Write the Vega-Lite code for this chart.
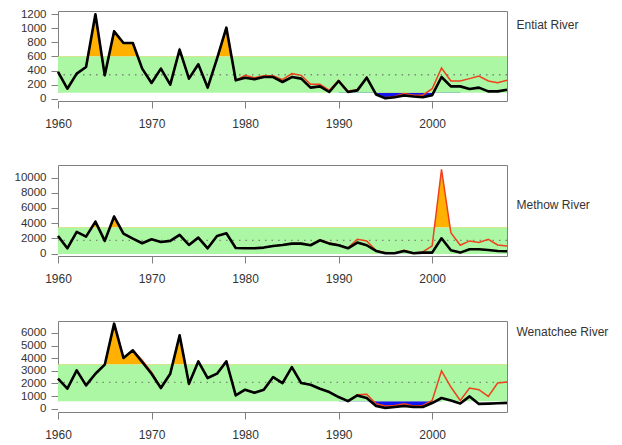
{
  "$schema": "https://vega.github.io/schema/vega-lite/v6.json",
  "padding": {"left": 14, "top": 8, "right": 5, "bottom": 0},
  "background": "white",
  "spacing": 36,
  "config": {
    "view": {"stroke": null},
    "axis": {"domainColor": "#808080", "tickColor": "#808080", "labelColor": "#333333", "labelFont": "Liberation Sans", "titleFont": "Liberation Sans", "grid": false, "zindex": 1, "domainWidth": 1, "tickWidth": 1}
  },
  "datasets": {
    "bands": [
      {"river": "Entiat River", "lo": 85, "mean": 340, "hi": 600},
      {"river": "Methow River", "lo": -40, "mean": 1750, "hi": 3420},
      {"river": "Wenatchee River", "lo": 590, "mean": 2090, "hi": 3500}
    ],
    "series": [
      {"river": "Entiat River", "year": 1960, "wild": 380, "total": 380},
      {"river": "Entiat River", "year": 1961, "wild": 142, "total": 142},
      {"river": "Entiat River", "year": 1962, "wild": 356, "total": 356},
      {"river": "Entiat River", "year": 1963, "wild": 450, "total": 450},
      {"river": "Entiat River", "year": 1964, "wild": 1200, "total": 1200},
      {"river": "Entiat River", "year": 1965, "wild": 332, "total": 332},
      {"river": "Entiat River", "year": 1966, "wild": 958, "total": 958},
      {"river": "Entiat River", "year": 1967, "wild": 792, "total": 792},
      {"river": "Entiat River", "year": 1968, "wild": 792, "total": 792},
      {"river": "Entiat River", "year": 1969, "wild": 427, "total": 427},
      {"river": "Entiat River", "year": 1970, "wild": 223, "total": 223},
      {"river": "Entiat River", "year": 1971, "wild": 427, "total": 427},
      {"river": "Entiat River", "year": 1972, "wild": 200, "total": 200},
      {"river": "Entiat River", "year": 1973, "wild": 697, "total": 697},
      {"river": "Entiat River", "year": 1974, "wild": 285, "total": 285},
      {"river": "Entiat River", "year": 1975, "wild": 489, "total": 489},
      {"river": "Entiat River", "year": 1976, "wild": 157, "total": 157},
      {"river": "Entiat River", "year": 1977, "wild": 569, "total": 569},
      {"river": "Entiat River", "year": 1978, "wild": 1010, "total": 1010},
      {"river": "Entiat River", "year": 1979, "wild": 261, "total": 261},
      {"river": "Entiat River", "year": 1980, "wild": 299, "total": 332},
      {"river": "Entiat River", "year": 1981, "wild": 275, "total": 299},
      {"river": "Entiat River", "year": 1982, "wild": 308, "total": 327},
      {"river": "Entiat River", "year": 1983, "wild": 308, "total": 327},
      {"river": "Entiat River", "year": 1984, "wild": 237, "total": 270},
      {"river": "Entiat River", "year": 1985, "wild": 308, "total": 356},
      {"river": "Entiat River", "year": 1986, "wild": 285, "total": 332},
      {"river": "Entiat River", "year": 1987, "wild": 157, "total": 204},
      {"river": "Entiat River", "year": 1988, "wild": 175, "total": 204},
      {"river": "Entiat River", "year": 1989, "wild": 95, "total": 118},
      {"river": "Entiat River", "year": 1990, "wild": 251, "total": 261},
      {"river": "Entiat River", "year": 1991, "wild": 95, "total": 109},
      {"river": "Entiat River", "year": 1992, "wild": 118, "total": 128},
      {"river": "Entiat River", "year": 1993, "wild": 299, "total": 308},
      {"river": "Entiat River", "year": 1994, "wild": 60, "total": 62},
      {"river": "Entiat River", "year": 1995, "wild": 5, "total": 12},
      {"river": "Entiat River", "year": 1996, "wild": 20, "total": 30},
      {"river": "Entiat River", "year": 1997, "wild": 45, "total": 75},
      {"river": "Entiat River", "year": 1998, "wild": 30, "total": 50},
      {"river": "Entiat River", "year": 1999, "wild": 20, "total": 50},
      {"river": "Entiat River", "year": 2000, "wild": 50, "total": 142},
      {"river": "Entiat River", "year": 2001, "wild": 308, "total": 436},
      {"river": "Entiat River", "year": 2002, "wild": 175, "total": 251},
      {"river": "Entiat River", "year": 2003, "wild": 175, "total": 251},
      {"river": "Entiat River", "year": 2004, "wild": 138, "total": 285},
      {"river": "Entiat River", "year": 2005, "wild": 157, "total": 322},
      {"river": "Entiat River", "year": 2006, "wild": 104, "total": 251},
      {"river": "Entiat River", "year": 2007, "wild": 104, "total": 228},
      {"river": "Entiat River", "year": 2008, "wild": 128, "total": 261},
      {"river": "Methow River", "year": 1960, "wild": 2325, "total": 2325},
      {"river": "Methow River", "year": 1961, "wild": 700, "total": 700},
      {"river": "Methow River", "year": 1962, "wild": 2850, "total": 2850},
      {"river": "Methow River", "year": 1963, "wild": 2240, "total": 2240},
      {"river": "Methow River", "year": 1964, "wild": 4210, "total": 4210},
      {"river": "Methow River", "year": 1965, "wild": 1670, "total": 1670},
      {"river": "Methow River", "year": 1966, "wild": 4870, "total": 4870},
      {"river": "Methow River", "year": 1967, "wild": 2630, "total": 2630},
      {"river": "Methow River", "year": 1968, "wild": 1970, "total": 1970},
      {"river": "Methow River", "year": 1969, "wild": 1360, "total": 1360},
      {"river": "Methow River", "year": 1970, "wild": 1890, "total": 1890},
      {"river": "Methow River", "year": 1971, "wild": 1535, "total": 1535},
      {"river": "Methow River", "year": 1972, "wild": 1670, "total": 1670},
      {"river": "Methow River", "year": 1973, "wild": 2460, "total": 2460},
      {"river": "Methow River", "year": 1974, "wild": 1140, "total": 1140},
      {"river": "Methow River", "year": 1975, "wild": 2100, "total": 2100},
      {"river": "Methow River", "year": 1976, "wild": 700, "total": 700},
      {"river": "Methow River", "year": 1977, "wild": 2325, "total": 2325},
      {"river": "Methow River", "year": 1978, "wild": 2675, "total": 2675},
      {"river": "Methow River", "year": 1979, "wild": 745, "total": 745},
      {"river": "Methow River", "year": 1980, "wild": 700, "total": 700},
      {"river": "Methow River", "year": 1981, "wild": 700, "total": 700},
      {"river": "Methow River", "year": 1982, "wild": 790, "total": 790},
      {"river": "Methow River", "year": 1983, "wild": 1010, "total": 1010},
      {"river": "Methow River", "year": 1984, "wild": 1140, "total": 1140},
      {"river": "Methow River", "year": 1985, "wild": 1315, "total": 1315},
      {"river": "Methow River", "year": 1986, "wild": 1315, "total": 1315},
      {"river": "Methow River", "year": 1987, "wild": 1100, "total": 1100},
      {"river": "Methow River", "year": 1988, "wild": 1750, "total": 1800},
      {"river": "Methow River", "year": 1989, "wild": 1315, "total": 1400},
      {"river": "Methow River", "year": 1990, "wild": 1100, "total": 1150},
      {"river": "Methow River", "year": 1991, "wild": 700, "total": 750},
      {"river": "Methow River", "year": 1992, "wild": 1450, "total": 1890},
      {"river": "Methow River", "year": 1993, "wild": 1100, "total": 1670},
      {"river": "Methow River", "year": 1994, "wild": 350, "total": 400},
      {"river": "Methow River", "year": 1995, "wild": 44, "total": 130},
      {"river": "Methow River", "year": 1996, "wild": 44, "total": 90},
      {"river": "Methow River", "year": 1997, "wild": 350, "total": 440},
      {"river": "Methow River", "year": 1998, "wild": 44, "total": 90},
      {"river": "Methow River", "year": 1999, "wild": 130, "total": 220},
      {"river": "Methow River", "year": 2000, "wild": 130, "total": 1010},
      {"river": "Methow River", "year": 2001, "wild": 2020, "total": 11100},
      {"river": "Methow River", "year": 2002, "wild": 440, "total": 2760},
      {"river": "Methow River", "year": 2003, "wild": 130, "total": 1100},
      {"river": "Methow River", "year": 2004, "wild": 570, "total": 1670},
      {"river": "Methow River", "year": 2005, "wild": 570, "total": 1450},
      {"river": "Methow River", "year": 2006, "wild": 480, "total": 1890},
      {"river": "Methow River", "year": 2007, "wild": 350, "total": 1140},
      {"river": "Methow River", "year": 2008, "wild": 300, "total": 1010},
      {"river": "Wenatchee River", "year": 1960, "wild": 2380, "total": 2380},
      {"river": "Wenatchee River", "year": 1961, "wild": 1586, "total": 1586},
      {"river": "Wenatchee River", "year": 1962, "wild": 3040, "total": 3040},
      {"river": "Wenatchee River", "year": 1963, "wild": 1850, "total": 1850},
      {"river": "Wenatchee River", "year": 1964, "wild": 2775, "total": 2775},
      {"river": "Wenatchee River", "year": 1965, "wild": 3490, "total": 3490},
      {"river": "Wenatchee River", "year": 1966, "wild": 6740, "total": 6740},
      {"river": "Wenatchee River", "year": 1967, "wild": 4020, "total": 4020},
      {"river": "Wenatchee River", "year": 1968, "wild": 4625, "total": 4625},
      {"river": "Wenatchee River", "year": 1969, "wild": 3700, "total": 3850},
      {"river": "Wenatchee River", "year": 1970, "wild": 2775, "total": 2900},
      {"river": "Wenatchee River", "year": 1971, "wild": 1640, "total": 1640},
      {"river": "Wenatchee River", "year": 1972, "wild": 2775, "total": 2775},
      {"river": "Wenatchee River", "year": 1973, "wild": 5815, "total": 5815},
      {"river": "Wenatchee River", "year": 1974, "wild": 1980, "total": 1980},
      {"river": "Wenatchee River", "year": 1975, "wild": 3750, "total": 3750},
      {"river": "Wenatchee River", "year": 1976, "wild": 2430, "total": 2430},
      {"river": "Wenatchee River", "year": 1977, "wild": 2775, "total": 2775},
      {"river": "Wenatchee River", "year": 1978, "wild": 3750, "total": 3750},
      {"river": "Wenatchee River", "year": 1979, "wild": 1057, "total": 1057},
      {"river": "Wenatchee River", "year": 1980, "wild": 1507, "total": 1507},
      {"river": "Wenatchee River", "year": 1981, "wild": 1270, "total": 1270},
      {"river": "Wenatchee River", "year": 1982, "wild": 1507, "total": 1507},
      {"river": "Wenatchee River", "year": 1983, "wild": 2510, "total": 2510},
      {"river": "Wenatchee River", "year": 1984, "wild": 2035, "total": 2035},
      {"river": "Wenatchee River", "year": 1985, "wild": 3300, "total": 3300},
      {"river": "Wenatchee River", "year": 1986, "wild": 2035, "total": 2035},
      {"river": "Wenatchee River", "year": 1987, "wild": 1900, "total": 1900},
      {"river": "Wenatchee River", "year": 1988, "wild": 1586, "total": 1586},
      {"river": "Wenatchee River", "year": 1989, "wild": 1320, "total": 1320},
      {"river": "Wenatchee River", "year": 1990, "wild": 925, "total": 925},
      {"river": "Wenatchee River", "year": 1991, "wild": 600, "total": 600},
      {"river": "Wenatchee River", "year": 1992, "wild": 1057, "total": 1110},
      {"river": "Wenatchee River", "year": 1993, "wild": 850, "total": 1150},
      {"river": "Wenatchee River", "year": 1994, "wild": 211, "total": 396},
      {"river": "Wenatchee River", "year": 1995, "wild": 53, "total": 211},
      {"river": "Wenatchee River", "year": 1996, "wild": 132, "total": 264},
      {"river": "Wenatchee River", "year": 1997, "wild": 211, "total": 396},
      {"river": "Wenatchee River", "year": 1998, "wild": 132, "total": 211},
      {"river": "Wenatchee River", "year": 1999, "wild": 132, "total": 264},
      {"river": "Wenatchee River", "year": 2000, "wild": 450, "total": 660},
      {"river": "Wenatchee River", "year": 2001, "wild": 848, "total": 3000},
      {"river": "Wenatchee River", "year": 2002, "wild": 658, "total": 1720},
      {"river": "Wenatchee River", "year": 2003, "wild": 420, "total": 658},
      {"river": "Wenatchee River", "year": 2004, "wild": 975, "total": 1640},
      {"river": "Wenatchee River", "year": 2005, "wild": 380, "total": 1505},
      {"river": "Wenatchee River", "year": 2006, "wild": 400, "total": 975},
      {"river": "Wenatchee River", "year": 2007, "wild": 430, "total": 2036},
      {"river": "Wenatchee River", "year": 2008, "wild": 460, "total": 2115}
    ]
  },
  "vconcat": [
    {
      "width": 449, "height": 90,
      "layer": [
        {
          "data": {"name": "series"},
          "transform": [{"filter": "datum.river === 'Entiat River'"}, {"lookup": "river", "from": {"data": {"name": "bands"}, "key": "river", "fields": ["lo", "hi"]}}],
          "mark": {"type": "area", "color": "#ffb000", "opacity": 1},
          "encoding": {
            "x": {"field": "year", "type": "quantitative", "scale": {"domain": [1960, 2008], "nice": false, "zero": false}, "axis": null},
            "y": {"field": "total", "type": "quantitative", "scale": {"domain": [-33, 1247], "nice": false, "zero": false}, "axis": null},
            "y2": {"field": "hi"}
          }
        },
        {
          "data": {"name": "bands"},
          "transform": [{"filter": "datum.river === 'Entiat River'"}],
          "mark": {"type": "rect", "color": "white", "opacity": 1},
          "encoding": {
            "y": {"field": "lo", "type": "quantitative", "scale": {"domain": [-33, 1247], "nice": false, "zero": false}, "axis": null},
            "y2": {"datum": -33}
          }
        },
        {
          "data": {"name": "series"},
          "transform": [{"filter": "datum.river === 'Entiat River' && datum.year >= 1990 && datum.year <= 2003"}, {"lookup": "river", "from": {"data": {"name": "bands"}, "key": "river", "fields": ["lo", "hi"]}}],
          "mark": {"type": "area", "color": "#1414f0", "opacity": 1},
          "encoding": {
            "x": {"field": "year", "type": "quantitative", "scale": {"domain": [1960, 2008], "nice": false, "zero": false}, "axis": null},
            "y": {"field": "wild", "type": "quantitative", "scale": {"domain": [-33, 1247], "nice": false, "zero": false}, "axis": null},
            "y2": {"field": "lo"}
          }
        },
        {
          "data": {"name": "bands"},
          "transform": [{"filter": "datum.river === 'Entiat River'"}],
          "mark": {"type": "rect", "color": "#acf7a3", "opacity": 1},
          "encoding": {
            "y": {"field": "lo", "type": "quantitative", "scale": {"domain": [-33, 1247], "nice": false, "zero": false}, "axis": null},
            "y2": {"field": "hi"}
          }
        },
        {
          "data": {"name": "bands"},
          "transform": [{"filter": "datum.river === 'Entiat River'"}],
          "mark": {"type": "rule", "color": "#7a8a78", "strokeDash": [1.5, 5], "strokeWidth": 1.3},
          "encoding": {
            "y": {"field": "mean", "type": "quantitative", "scale": {"domain": [-33, 1247], "nice": false, "zero": false}, "axis": null}
          }
        },
        {
          "data": {"name": "series"},
          "transform": [{"filter": "datum.river === 'Entiat River'"}],
          "mark": {"type": "line", "color": "#f0401c", "strokeWidth": 1.5},
          "encoding": {
            "x": {"field": "year", "type": "quantitative", "scale": {"domain": [1960, 2008], "nice": false, "zero": false}, "axis": {"orient": "top", "labels": false, "ticks": false, "title": null}},
            "y": {"field": "total", "type": "quantitative", "scale": {"domain": [-33, 1247], "nice": false, "zero": false}, "axis": {"orient": "right", "labels": false, "ticks": false, "title": "Entiat River", "titleAngle": 0, "titleAlign": "left", "titleBaseline": "middle", "titleX": 9, "titleY": 13, "titleFontSize": 12, "titleFontWeight": "normal", "titleColor": "#333333"}}
          }
        },
        {
          "data": {"name": "series"},
          "transform": [{"filter": "datum.river === 'Entiat River'"}],
          "mark": {"type": "line", "color": "#000000", "strokeWidth": 2.6, "strokeJoin": "round"},
          "encoding": {
            "x": {"field": "year", "type": "quantitative", "scale": {"domain": [1960, 2008], "nice": false, "zero": false}, "axis": {"orient": "bottom", "values": [1960, 1970, 1980, 1990, 2000], "format": "d", "tickSize": 7, "labelPadding": 10, "labelFontSize": 12, "labelFlush": false, "labelOverlap": false, "title": null}},
            "y": {"field": "wild", "type": "quantitative", "scale": {"domain": [-33, 1247], "nice": false, "zero": false}, "axis": {"orient": "left", "values": [0, 200, 400, 600, 800, 1000, 1200], "format": "d", "tickSize": 7, "labelPadding": 5, "labelFontSize": 11.5, "labelOverlap": false, "title": null}}
          }
        }
      ],
      "resolve": {"axis": {"x": "independent", "y": "independent"}}
    },
    {
      "width": 449, "height": 91,
      "layer": [
        {
          "data": {"name": "series"},
          "transform": [{"filter": "datum.river === 'Methow River'"}, {"lookup": "river", "from": {"data": {"name": "bands"}, "key": "river", "fields": ["lo", "hi"]}}],
          "mark": {"type": "area", "color": "#ffb000", "opacity": 1},
          "encoding": {
            "x": {"field": "year", "type": "quantitative", "scale": {"domain": [1960, 2008], "nice": false, "zero": false}, "axis": null},
            "y": {"field": "total", "type": "quantitative", "scale": {"domain": [-316, 11658], "nice": false, "zero": false}, "axis": null},
            "y2": {"field": "hi"}
          }
        },
        {
          "data": {"name": "bands"},
          "transform": [{"filter": "datum.river === 'Methow River'"}],
          "mark": {"type": "rect", "color": "white", "opacity": 1},
          "encoding": {
            "y": {"field": "lo", "type": "quantitative", "scale": {"domain": [-316, 11658], "nice": false, "zero": false}, "axis": null},
            "y2": {"datum": -316}
          }
        },
        {
          "data": {"name": "bands"},
          "transform": [{"filter": "datum.river === 'Methow River'"}],
          "mark": {"type": "rect", "color": "#acf7a3", "opacity": 1},
          "encoding": {
            "y": {"field": "lo", "type": "quantitative", "scale": {"domain": [-316, 11658], "nice": false, "zero": false}, "axis": null},
            "y2": {"field": "hi"}
          }
        },
        {
          "data": {"name": "bands"},
          "transform": [{"filter": "datum.river === 'Methow River'"}],
          "mark": {"type": "rule", "color": "#7a8a78", "strokeDash": [1.5, 5], "strokeWidth": 1.3},
          "encoding": {
            "y": {"field": "mean", "type": "quantitative", "scale": {"domain": [-316, 11658], "nice": false, "zero": false}, "axis": null}
          }
        },
        {
          "data": {"name": "series"},
          "transform": [{"filter": "datum.river === 'Methow River'"}],
          "mark": {"type": "line", "color": "#f0401c", "strokeWidth": 1.5},
          "encoding": {
            "x": {"field": "year", "type": "quantitative", "scale": {"domain": [1960, 2008], "nice": false, "zero": false}, "axis": {"orient": "top", "labels": false, "ticks": false, "title": null}},
            "y": {"field": "total", "type": "quantitative", "scale": {"domain": [-316, 11658], "nice": false, "zero": false}, "axis": {"orient": "right", "labels": false, "ticks": false, "title": "Methow River", "titleAngle": 0, "titleAlign": "left", "titleBaseline": "middle", "titleX": 9, "titleY": 39, "titleFontSize": 12, "titleFontWeight": "normal", "titleColor": "#333333"}}
          }
        },
        {
          "data": {"name": "series"},
          "transform": [{"filter": "datum.river === 'Methow River'"}],
          "mark": {"type": "line", "color": "#000000", "strokeWidth": 2.6, "strokeJoin": "round"},
          "encoding": {
            "x": {"field": "year", "type": "quantitative", "scale": {"domain": [1960, 2008], "nice": false, "zero": false}, "axis": {"orient": "bottom", "values": [1960, 1970, 1980, 1990, 2000], "format": "d", "tickSize": 7, "labelPadding": 10, "labelFontSize": 12, "labelFlush": false, "labelOverlap": false, "title": null}},
            "y": {"field": "wild", "type": "quantitative", "scale": {"domain": [-316, 11658], "nice": false, "zero": false}, "axis": {"orient": "left", "values": [0, 2000, 4000, 6000, 8000, 10000], "format": "d", "tickSize": 7, "labelPadding": 5, "labelFontSize": 11.5, "labelOverlap": false, "title": null}}
          }
        }
      ],
      "resolve": {"axis": {"x": "independent", "y": "independent"}}
    },
    {
      "width": 449, "height": 91,
      "layer": [
        {
          "data": {"name": "series"},
          "transform": [{"filter": "datum.river === 'Wenatchee River'"}, {"lookup": "river", "from": {"data": {"name": "bands"}, "key": "river", "fields": ["lo", "hi"]}}],
          "mark": {"type": "area", "color": "#ffb000", "opacity": 1},
          "encoding": {
            "x": {"field": "year", "type": "quantitative", "scale": {"domain": [1960, 2008], "nice": false, "zero": false}, "axis": null},
            "y": {"field": "total", "type": "quantitative", "scale": {"domain": [-260, 6950], "nice": false, "zero": false}, "axis": null},
            "y2": {"field": "hi"}
          }
        },
        {
          "data": {"name": "bands"},
          "transform": [{"filter": "datum.river === 'Wenatchee River'"}],
          "mark": {"type": "rect", "color": "white", "opacity": 1},
          "encoding": {
            "y": {"field": "lo", "type": "quantitative", "scale": {"domain": [-260, 6950], "nice": false, "zero": false}, "axis": null},
            "y2": {"datum": -260}
          }
        },
        {
          "data": {"name": "series"},
          "transform": [{"filter": "datum.river === 'Wenatchee River' && datum.year >= 1990 && datum.year <= 2001"}, {"lookup": "river", "from": {"data": {"name": "bands"}, "key": "river", "fields": ["lo", "hi"]}}],
          "mark": {"type": "area", "color": "#1414f0", "opacity": 1},
          "encoding": {
            "x": {"field": "year", "type": "quantitative", "scale": {"domain": [1960, 2008], "nice": false, "zero": false}, "axis": null},
            "y": {"field": "wild", "type": "quantitative", "scale": {"domain": [-260, 6950], "nice": false, "zero": false}, "axis": null},
            "y2": {"field": "lo"}
          }
        },
        {
          "data": {"name": "bands"},
          "transform": [{"filter": "datum.river === 'Wenatchee River'"}],
          "mark": {"type": "rect", "color": "#acf7a3", "opacity": 1},
          "encoding": {
            "y": {"field": "lo", "type": "quantitative", "scale": {"domain": [-260, 6950], "nice": false, "zero": false}, "axis": null},
            "y2": {"field": "hi"}
          }
        },
        {
          "data": {"name": "bands"},
          "transform": [{"filter": "datum.river === 'Wenatchee River'"}],
          "mark": {"type": "rule", "color": "#7a8a78", "strokeDash": [1.5, 5], "strokeWidth": 1.3},
          "encoding": {
            "y": {"field": "mean", "type": "quantitative", "scale": {"domain": [-260, 6950], "nice": false, "zero": false}, "axis": null}
          }
        },
        {
          "data": {"name": "series"},
          "transform": [{"filter": "datum.river === 'Wenatchee River'"}],
          "mark": {"type": "line", "color": "#f0401c", "strokeWidth": 1.5},
          "encoding": {
            "x": {"field": "year", "type": "quantitative", "scale": {"domain": [1960, 2008], "nice": false, "zero": false}, "axis": {"orient": "top", "labels": false, "ticks": false, "title": null}},
            "y": {"field": "total", "type": "quantitative", "scale": {"domain": [-260, 6950], "nice": false, "zero": false}, "axis": {"orient": "right", "labels": false, "ticks": false, "title": "Wenatchee River", "titleAngle": 0, "titleAlign": "left", "titleBaseline": "middle", "titleX": 9, "titleY": 10, "titleFontSize": 12, "titleFontWeight": "normal", "titleColor": "#333333"}}
          }
        },
        {
          "data": {"name": "series"},
          "transform": [{"filter": "datum.river === 'Wenatchee River'"}],
          "mark": {"type": "line", "color": "#000000", "strokeWidth": 2.6, "strokeJoin": "round"},
          "encoding": {
            "x": {"field": "year", "type": "quantitative", "scale": {"domain": [1960, 2008], "nice": false, "zero": false}, "axis": {"orient": "bottom", "values": [1960, 1970, 1980, 1990, 2000], "format": "d", "tickSize": 7, "labelPadding": 10, "labelFontSize": 12, "labelFlush": false, "labelOverlap": false, "title": null}},
            "y": {"field": "wild", "type": "quantitative", "scale": {"domain": [-260, 6950], "nice": false, "zero": false}, "axis": {"orient": "left", "values": [0, 1000, 2000, 3000, 4000, 5000, 6000], "format": "d", "tickSize": 7, "labelPadding": 5, "labelFontSize": 11.5, "labelOverlap": false, "title": null}}
          }
        }
      ],
      "resolve": {"axis": {"x": "independent", "y": "independent"}}
    }
  ]
}
